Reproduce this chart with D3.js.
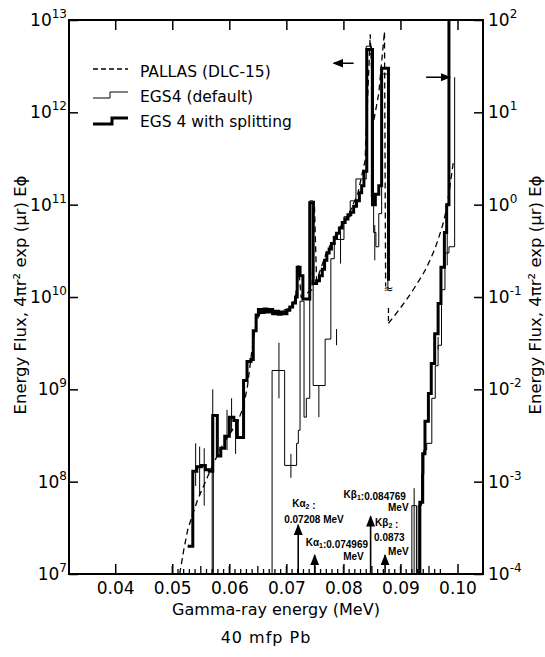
<!DOCTYPE html>
<html>
<head>
<meta charset="utf-8">
<script src="https://cdn.jsdelivr.net/npm/d3@7"></script>
<style>
  body { margin: 0; background: #fff; }
  text { font-family: "DejaVu Sans", "Liberation Sans", sans-serif; fill: #000; }
</style>
</head>
<body>
<script>

// ================================ data
var xTicks = [0.04, 0.05, 0.06, 0.07, 0.08, 0.09, 0.10];
var leftExps = [7, 8, 9, 10, 11, 12, 13];
var rightExps = [-4, -3, -2, -1, 0, 1, 2];

// PALLAS (DLC-15), smooth dashed curve. left part on left axis, right part on right axis
var pallasLeft = [
  [0.0513, 1.0e7], [0.0520, 1.8e7], [0.0527, 3.0e7], [0.0535, 4.3e7], [0.0545, 6.5e7],
  [0.0555, 9.0e7], [0.0565, 1.25e8], [0.0575, 1.7e8], [0.0585, 2.3e8], [0.0595, 2.9e8],
  [0.0605, 3.6e8], [0.0615, 4.5e8], [0.0625, 6.5e8], [0.0632, 1.1e9], [0.0638, 2.2e9],
  [0.0645, 4.5e9], [0.0652, 6.5e9], [0.0665, 7.0e9], [0.0685, 6.9e9], [0.0705, 7.5e9],
  [0.0716, 9.5e9], [0.0721, 2.2e10], [0.0726, 1.0e10], [0.0745, 1.2e10], [0.0749, 1.1e11],
  [0.0753, 1.5e10], [0.0770, 3.0e10], [0.0790, 5.2e10], [0.0810, 8.0e10], [0.0825, 1.3e11],
  [0.0838, 3.0e11], [0.0847, 7.0e12], [0.0853, 8.0e11], [0.0862, 1.6e12], [0.0872, 7.5e12],
  [0.0874, 1.3e10]
];
var pallasRight = [
  [0.0879, 0.076], [0.0879, 0.052], [0.0897, 0.072], [0.0926, 0.13], [0.0949, 0.23],
  [0.0966, 0.42], [0.0980, 0.87], [0.0993, 3.0]
];

// EGS4 (default), thin histogram (step after)
var egsDefaultLeft = [
  [0.0566, 1e5], [0.0570, 5.0e8], [0.0572, 1e5], [0.0675, 1.6e9],
  [0.0697, 1.5e8], [0.0718, 2.6e8], [0.0721, 3.6e8], [0.0724, 9.0e9], [0.0731, 5.0e8],
  [0.0735, 8.0e8], [0.0741, 1.1e11], [0.0747, 1.1e9], [0.0768, 3.5e9], [0.0778, 2.6e10],
  [0.0784, 4.2e10], [0.0801, 7.4e10], [0.0812, 1.1e11], [0.0822, 1.9e11], [0.0840, 5.2e12],
  [0.0849, 1.2e11], [0.0853, 5.0e10], [0.0857, 3.5e10], [0.0862, 8.0e10], [0.0867, 2.6e12],
  [0.0878, 1.2e10]
];
var egsDefaultRight = [
  [0.0917, 1e-5], [0.0920, 5.5e-4], [0.0928, 1e-5], [0.0931, 5.5e-4], [0.0937, 1.2e-3],
  [0.0941, 2.2e-3], [0.0946, 2.6e-3], [0.0955, 8.0e-3], [0.0961, 1.8e-2], [0.0966, 3.0e-2],
  [0.0972, 0.12], [0.0978, 0.30], [0.0985, 0.35], [0.0995, 24]
];

// EGS4 with splitting, thick histogram
var egsSplitLeft = [
  [0.0527, 2.0e7], [0.0536, 1.3e8], [0.0543, 1.45e8], [0.0551, 1.5e8], [0.0558, 1.35e8],
  [0.0565, 1.3e8], [0.0571, 5.2e8], [0.0579, 1.9e8], [0.0585, 2.3e8], [0.0592, 3.1e8],
  [0.0600, 5.0e8], [0.0608, 4.6e8], [0.0614, 3.0e8], [0.0625, 1.25e9], [0.0631, 2.0e9],
  [0.0638, 2.1e9], [0.0642, 4.3e9], [0.0647, 6.4e9], [0.0651, 7.3e9], [0.0656, 6.8e9],
  [0.0661, 7.4e9], [0.0666, 6.9e9], [0.0671, 7.3e9], [0.0676, 6.6e9], [0.0681, 7.0e9],
  [0.0686, 6.5e9], [0.0691, 6.9e9], [0.0696, 6.6e9], [0.0701, 7.2e9], [0.0706, 7.8e9],
  [0.0711, 8.6e9], [0.0716, 1.0e10], [0.0719, 2.1e10], [0.0724, 1.7e10], [0.0729, 9.5e9],
  [0.0741, 1.05e11], [0.0747, 1.4e10], [0.0753, 1.5e10], [0.0758, 1.7e10], [0.0763, 2.0e10],
  [0.0767, 2.5e10], [0.0771, 3.0e10], [0.0775, 3.3e10], [0.0779, 3.8e10], [0.0784, 4.4e10],
  [0.0788, 4.9e10], [0.0793, 5.6e10], [0.0798, 6.4e10], [0.0803, 7.0e10], [0.0808, 7.8e10],
  [0.0813, 8.3e10], [0.0818, 9.6e10], [0.0823, 1.1e11], [0.0828, 1.35e11], [0.0832, 1.6e11],
  [0.0836, 2.3e11], [0.0841, 4.8e12], [0.0851, 1.0e11], [0.0856, 1.3e11], [0.0862, 1.6e11],
  [0.0867, 3.0e12], [0.0879, 1.5e10]
];
var egsSplitRight = [
  [0.0932, 1e-5], [0.0934, 6e-4], [0.0939, 2e-3], [0.0943, 4.5e-3], [0.0949, 9e-3],
  [0.0954, 1.9e-2], [0.0960, 4e-2], [0.0966, 8.5e-2], [0.0971, 0.21], [0.0977, 0.5],
  [0.0981, 1.0], [0.0985, 1e3]
];

// error bars [energy, low, high]
var errLeft = [
  [0.0541, 9e7, 2.6e8], [0.0548, 7e7, 2.4e8], [0.0556, 5.5e7, 2.3e8], [0.0571, 1.3e8, 1.0e9],
  [0.0596, 2.2e8, 6e8], [0.0611, 2.0e8, 4.5e8], [0.0604, 3.5e8, 8e8], [0.0687, 8e8, 3.2e9],
  [0.0708, 1.1e8, 2.0e8], [0.0757, 5e8, 1.1e9], [0.0788, 3e9, 4.5e9], [0.0795, 2.3e10, 5e10],
  [0.0855, 2.5e10, 6e10]
];
var errRight = [
  [0.0924, 1e-4, 8.5e-4], [0.0966, 2.7e-2, 3.7e-2], [0.0982, 0.22, 0.5]
];

// K x-ray lines of Pb (arrow top in left-axis units)
var kLines = [
  { energy: 0.07208, top: 3.4e7 },
  { energy: 0.074969, top: 1.6e7 },
  { energy: 0.084769, top: 4.2e7 },
  { energy: 0.0873, top: 1.6e7 }
];

// ================================ chart area
var svgWidth = 545;
var svgHeight = 657;
var chartMargin = { top: 20, right: 62, bottom: 83, left: 69 };
var chartWidth = svgWidth - chartMargin.left - chartMargin.right;
var chartHeight = svgHeight - chartMargin.top - chartMargin.bottom;

var svg = d3.select("body").append("svg")
  .attr("width", svgWidth)
  .attr("height", svgHeight);

var defs = svg.append("defs");
defs.append("clipPath").attr("id", "clip")
  .append("rect").attr("width", chartWidth).attr("height", chartHeight);
defs.append("marker").attr("id", "head")
  .attr("viewBox", "0 0 10 10").attr("refX", 9).attr("refY", 5)
  .attr("markerWidth", 7).attr("markerHeight", 7).attr("orient", "auto")
  .append("path").attr("d", "M0,1 L10,5 L0,9 Z").attr("fill", "#000");

var g = svg.append("g")
  .attr("transform", `translate(${chartMargin.left}, ${chartMargin.top})`);

var x = d3.scaleLinear().domain([0.0319, 0.10447]).range([0, chartWidth]);
var yL = d3.scaleLog().domain([1e7, 1e13]).range([chartHeight, 0]);
var yR = d3.scaleLog().domain([1e-4, 1e2]).range([chartHeight, 0]);

// ================================ axes
var bottomAxis = d3.axisBottom(x).tickValues(xTicks).tickSize(-10).tickPadding(8)
  .tickFormat(d3.format(".2f"));
var xb = g.append("g").attr("transform", `translate(0, ${chartHeight})`).call(bottomAxis);
xb.selectAll("text").style("font-size", "17px").style("font-family", "DejaVu Sans");

// minor ticks every 0.001 MeV
var minor = d3.range(50, 98).map(d => d / 1000);
g.append("g").selectAll("line").data(minor).enter().append("line")
  .attr("x1", d => x(d)).attr("x2", d => x(d))
  .attr("y1", chartHeight)
  .attr("y2", d => chartHeight - (Math.round(d * 1000) % 5 == 0 ? 8 : 5))
  .attr("stroke", "#000").attr("stroke-width", 1.3);

g.append("g").call(d3.axisTop(x).tickValues(xTicks).tickSize(-10).tickFormat(""));

g.append("g").call(d3.axisLeft(yL).tickValues(leftExps.map(e => Math.pow(10, e))).tickSize(-9).tickFormat(""));
g.append("g").attr("transform", `translate(${chartWidth}, 0)`)
  .call(d3.axisRight(yR).tickValues(rightExps.map(e => Math.pow(10, e))).tickSize(-9).tickFormat(""));

g.selectAll(".domain").remove();
g.selectAll(".tick line").attr("stroke-width", 1.5);

// power-of-ten labels
var lLab = g.append("g").selectAll("text").data(leftExps).enter().append("text")
  .attr("x", -2).attr("y", d => yL(Math.pow(10, d)) + 6)
  .attr("text-anchor", "end").style("font-size", "17px");
lLab.append("tspan").text("10");
lLab.append("tspan").attr("dy", -8).style("font-size", "12px").text(d => d);

var rLab = g.append("g").selectAll("text").data(rightExps).enter().append("text")
  .attr("x", chartWidth + 5).attr("y", d => yR(Math.pow(10, d)) + 6)
  .style("font-size", "17px");
rLab.append("tspan").text("10");
rLab.append("tspan").attr("dy", -8).style("font-size", "12px").text(d => d < 0 ? "-" + (-d) : d);

// frame
g.append("rect").attr("width", chartWidth).attr("height", chartHeight)
  .attr("fill", "none").attr("stroke", "#000").attr("stroke-width", 2);

// ================================ curves
var plot = g.append("g").attr("clip-path", "url(#clip)");

var stepL = d3.line().curve(d3.curveStepAfter).x(d => x(d[0])).y(d => yL(d[1]));
var stepR = d3.line().curve(d3.curveStepAfter).x(d => x(d[0])).y(d => yR(d[1]));
var lineL = d3.line().x(d => x(d[0])).y(d => yL(d[1]));
var lineR = d3.line().curve(d3.curveMonotoneX).x(d => x(d[0])).y(d => yR(d[1]));

plot.append("path").attr("d", stepL(egsDefaultLeft)).attr("fill", "none").attr("stroke", "#000").attr("stroke-width", 1);
plot.append("path").attr("d", stepR(egsDefaultRight)).attr("fill", "none").attr("stroke", "#000").attr("stroke-width", 1);
plot.append("path").attr("d", stepL(egsSplitLeft)).attr("fill", "none").attr("stroke", "#000").attr("stroke-width", 3);
plot.append("path").attr("d", stepR(egsSplitRight)).attr("fill", "none").attr("stroke", "#000").attr("stroke-width", 3);
plot.append("path").attr("d", lineL(pallasLeft)).attr("fill", "none").attr("stroke", "#000")
  .attr("stroke-width", 1.3).attr("stroke-dasharray", "6,4");
plot.append("path").attr("d", lineR(pallasRight.slice(1))).attr("fill", "none").attr("stroke", "#000")
  .attr("stroke-width", 1.3).attr("stroke-dasharray", "6,4");
plot.append("path").attr("d", lineR(pallasRight.slice(0, 2))).attr("fill", "none").attr("stroke", "#000")
  .attr("stroke-width", 1.3).attr("stroke-dasharray", "5,3");

// error bars
plot.selectAll(".errL").data(errLeft).enter().append("line")
  .attr("x1", d => x(d[0])).attr("x2", d => x(d[0]))
  .attr("y1", d => yL(d[1])).attr("y2", d => yL(d[2]))
  .attr("stroke", "#000").attr("stroke-width", 1);
plot.selectAll(".errR").data(errRight).enter().append("line")
  .attr("x1", d => x(d[0])).attr("x2", d => x(d[0]))
  .attr("y1", d => yR(d[1])).attr("y2", d => yR(d[2]))
  .attr("stroke", "#000").attr("stroke-width", 1);

// axis break mark
g.append("text").attr("x", x(0.0879)).attr("y", yR(0.11)).attr("text-anchor", "middle")
  .style("font-size", "12px").text("≈");

// which-axis arrows
g.append("line").attr("x1", x(0.0818)).attr("x2", x(0.0783))
  .attr("y1", yL(3.4e12)).attr("y2", yL(3.4e12))
  .attr("stroke", "#000").attr("stroke-width", 1.5).attr("marker-end", "url(#head)");
g.append("line").attr("x1", x(0.0945)).attr("x2", x(0.0987))
  .attr("y1", yR(24)).attr("y2", yR(24))
  .attr("stroke", "#000").attr("stroke-width", 1.5).attr("marker-end", "url(#head)");

// K lines
g.selectAll(".kline").data(kLines).enter().append("line")
  .attr("x1", d => x(d.energy)).attr("x2", d => x(d.energy))
  .attr("y1", chartHeight).attr("y2", d => yL(d.top))
  .attr("stroke", "#000").attr("stroke-width", 1.6).attr("marker-end", "url(#head)");

function kText(px, py, parts, anchor) {
  var t = g.append("text").attr("x", px).attr("y", py)
    .attr("text-anchor", anchor || "start")
    .style("font-family", "Liberation Sans, Arial, sans-serif")
    .style("font-size", "10px").style("font-weight", "bold");
  parts.forEach(function (p) {
    if (p.sub) {
      t.append("tspan").attr("dy", 2).style("font-size", "7px").text(p.sub);
      t.append("tspan").attr("dy", -2).text("");
    } else {
      t.append("tspan").text(p.t);
    }
  });
}
var k0 = x(kLines[0].energy), k0y = yL(kLines[0].top);
kText(k0 - 6, k0y - 18, [{ t: "Kα" }, { sub: "2" }, { t: " :" }]);
kText(k0 - 14, k0y - 2, [{ t: "0.07208 MeV" }]);
var k1 = x(kLines[1].energy), k1y = yL(kLines[1].top);
kText(k1 - 9, k1y - 9, [{ t: "Kα" }, { sub: "1" }, { t: ":0.074969" }]);
kText(k1 + 49, k1y + 5, [{ t: "MeV" }], "end");
var k2 = x(kLines[2].energy), k2y = yL(kLines[2].top);
kText(k2 - 27, k2y - 18, [{ t: "K" }, { t: "β" }, { sub: "1" }, { t: ":0.084769" }]);
kText(k2 + 38, k2y - 5, [{ t: "MeV" }], "end");
var k3 = x(kLines[3].energy), k3y = yL(kLines[3].top);
kText(k3 - 10, k3y - 29, [{ t: "K" }, { t: "β" }, { sub: "2" }, { t: " :" }]);
kText(k3 - 11, k3y - 14, [{ t: "0.0873" }]);
kText(k3 + 3, k3y, [{ t: "MeV" }]);

// ================================ legend
var leg = svg.append("g");
leg.append("line").attr("x1", 93).attr("x2", 128).attr("y1", 69).attr("y2", 69)
  .attr("stroke", "#000").attr("stroke-width", 1.3).attr("stroke-dasharray", "5,3");
leg.append("path").attr("d", "M93,98 H110 V92 H128").attr("fill", "none").attr("stroke", "#000").attr("stroke-width", 1);
leg.append("path").attr("d", "M93,124 H112 V118 H128").attr("fill", "none").attr("stroke", "#000").attr("stroke-width", 3);
var legText = ["PALLAS (DLC-15)", "EGS4 (default)", "EGS 4 with splitting"];
leg.selectAll("text").data(legText).enter().append("text")
  .attr("x", 140).attr("y", (d, i) => 77 + i * 25)
  .style("font-size", "15.5px").text(d => d);

// ================================ titles
svg.append("text").attr("x", 276).attr("y", 615).attr("text-anchor", "middle")
  .style("font-size", "16px").text("Gamma-ray energy (MeV)");
svg.append("text").attr("x", 266).attr("y", 643).attr("text-anchor", "middle")
  .style("font-size", "16px").style("letter-spacing", "1px").text("40 mfp Pb");

var yTitle = "Energy Flux, 4πr² exp (μr) Eϕ";
svg.append("text").attr("transform", "translate(26, 295) rotate(-90)")
  .attr("text-anchor", "middle").style("font-size", "16.5px").text(yTitle);
svg.append("text").attr("transform", "translate(541, 295) rotate(-90)")
  .attr("text-anchor", "middle").style("font-size", "16.5px").text(yTitle);

</script>
</body>
</html>
